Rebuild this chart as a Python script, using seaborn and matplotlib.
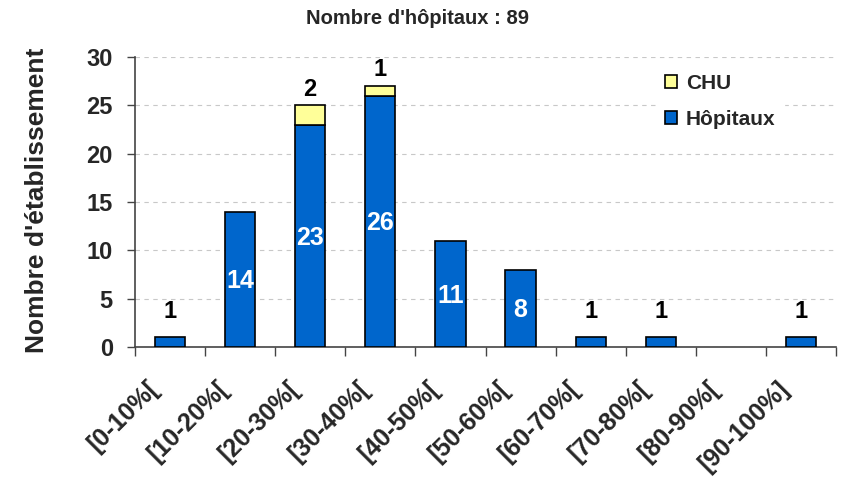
import numpy as np
import pandas as pd
import matplotlib
matplotlib.use("Agg")
import matplotlib.pyplot as plt
import matplotlib.transforms as mtransforms
from matplotlib.patches import Patch
import seaborn as sns

categories = ['[0-10%[', '[10-20%[', '[20-30%[', '[30-40%[', '[40-50%[',
              '[50-60%[', '[60-70%[', '[70-80%[', '[80-90%[', '[90-100%]']
hopitaux = [1, 14, 23, 26, 11, 8, 1, 1, 0, 1]
chu = [0, 0, 2, 1, 0, 0, 0, 0, 0, 0]

sns.set_style("white")
plt.rcParams['font.family'] = ['Liberation Sans', 'DejaVu Sans']
plt.rcParams['font.weight'] = 'bold'

df = pd.DataFrame({'cat': categories, 'hop': hopitaux, 'chu': chu})

fig = plt.figure(figsize=(8.45, 4.87), dpi=100)
ax = fig.add_axes([135/845, 1 - 347/487, 701/845, 290/487])

blue = '#0066CC'
yellow = '#FFFF99'

sns.barplot(data=df, x='cat', y='hop', color=blue, edgecolor='black',
            linewidth=1.2, width=0.43, saturation=1, ax=ax, zorder=3)
sns.barplot(data=df, x='cat', y='chu', bottom=df['hop'], color=yellow, edgecolor='black',
            linewidth=1.2, width=0.43, saturation=1, ax=ax, zorder=3)

# no outline for empty bars
for p in list(ax.patches):
    if p.get_height() == 0:
        p.set_visible(False)

# value labels
for i, (h, c) in enumerate(zip(hopitaux, chu)):
    if h >= 5:
        ax.text(i, h / 2 - 0.93, str(h), ha='center', va='baseline', color='white',
                fontsize=18, fontweight='bold', zorder=4)
    elif h > 0:
        ax.text(i, h + 2.0, str(h), ha='center', va='baseline', color='black',
                fontsize=17, fontweight='bold', zorder=4)
    if c > 0:
        ax.text(i, h + c + 1.0, str(c), ha='center', va='baseline', color='black',
                fontsize=17, fontweight='bold', zorder=4)

ax.set_ylim(0, 30)
ax.set_xlim(-0.5, len(categories) - 0.5)
ax.set_yticks(range(0, 31, 5))
ax.yaxis.grid(True, linestyle=(0, (4, 4)), color='#c8c8c8', linewidth=0.8, zorder=0)
ax.set_axisbelow(True)

# ticks between categories, labels drawn as rotated texts
ax.set_xticks(np.arange(-0.5, len(categories), 1))
ax.set_xticklabels([])
lab_trans = mtransforms.blended_transform_factory(ax.transData, ax.transAxes) + \
    mtransforms.ScaledTranslation(-15 / 100, -38 / 100, fig.dpi_scale_trans)
for i, cat in enumerate(categories):
    ax.text(i, 0, cat, transform=lab_trans, rotation=45, ha='right', va='center',
            rotation_mode='anchor', fontsize=18, fontweight='bold', clip_on=False)

ax.tick_params(axis='x', which='major', direction='out', length=6.5, width=1,
               color='#444444', bottom=True)
ax.tick_params(axis='y', direction='out', length=6, width=1, color='#444444',
               left=True, labelsize=17, pad=10)
for lab in ax.get_yticklabels():
    lab.set_fontweight('bold')

for s in ['top', 'right']:
    ax.spines[s].set_visible(False)
for s in ['left', 'bottom']:
    ax.spines[s].set_color('#444444')
    ax.spines[s].set_linewidth(1.2)

ax.set_xlabel('')
ax.set_ylabel("Nombre d'établissement", fontsize=19, fontweight='bold')
ax.yaxis.set_label_coords(-0.123, 0.505)

leg_handles = [Patch(facecolor=yellow, edgecolor='black', linewidth=1.2),
               Patch(facecolor=blue, edgecolor='black', linewidth=1.2)]
leg = ax.legend(leg_handles, ['CHU', 'Hôpitaux'],
                loc='upper left', bbox_to_anchor=(657 / 845, 1 - 66 / 487),
                bbox_transform=fig.transFigure, frameon=True,
                edgecolor='white', facecolor='white', framealpha=1, fancybox=False,
                prop={'size': 15, 'weight': 'bold'}, handlelength=0.58, handleheight=0.58,
                handletextpad=0.4, labelspacing=0.8, borderpad=0.4, borderaxespad=0)

fig.text(418 / 845, 1 - 18 / 487, "Nombre d'hôpitaux : 89", ha='center',
         va='center', fontsize=14.5, fontweight='bold')

fig.savefig('out.png', dpi=100)
